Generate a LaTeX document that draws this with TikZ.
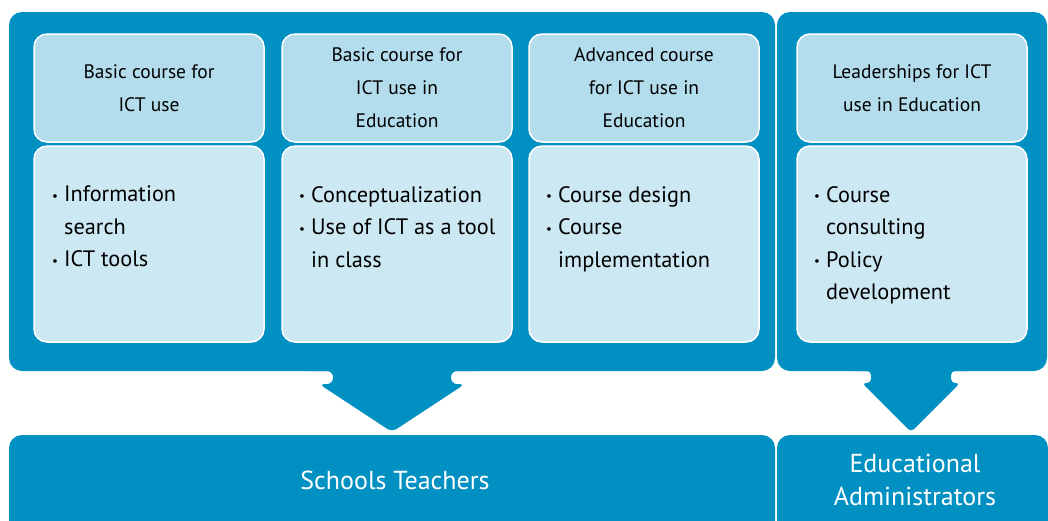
\documentclass[tikz,border=0pt]{standalone}
\usepackage{fontspec}
\setmainfont{PT Sans}
\definecolor{panelblue}{RGB}{0,145,194}
\definecolor{headblue}{RGB}{179,220,236}
\definecolor{bodyblue}{RGB}{204,232,243}
\tikzstyle{head} = [rectangle, rounded corners=13pt, minimum width=230pt, minimum height=108pt, text centered, align=center, draw=white, line width=1.5pt, fill=headblue, font=\fontsize{19.5}{33}\selectfont]
\tikzstyle{body} = [rectangle, rounded corners=13pt, minimum width=230pt, minimum height=196pt, draw=white, line width=1.5pt, fill=bodyblue]
\tikzstyle{items} = [anchor=north west, inner sep=0pt, align=left, font=\fontsize{22.3}{32.5}\selectfont]
\tikzstyle{bartext} = [text centered, align=center, text=white, font=\fontsize{26}{33}\selectfont]
\newcommand{\bul}{\makebox[12pt][l]{\raisebox{1.5pt}{\fontsize{13}{13}\selectfont\textbullet}}}
\newcommand{\ind}{\hspace*{12pt}}

\begin{document}
\begin{tikzpicture}[x=1pt,y=-1pt]
            \useasboundingbox (0,0) rectangle (1048,520);
            \clip (0,0) rectangle (1048,520);

            % panels with their arrows
            \fill [panelblue, rounded corners=13pt] (9,12) rectangle (775,371);
            \fill [panelblue, rounded corners=6pt] (300,360) -- (300,371) -- (333,371) -- (333,384) -- (319,384) -- (392,432) -- (465,384) -- (451,384) -- (451,371) -- (484,371) -- (484,360) -- cycle;
            \fill [panelblue, rounded corners=13pt] (777,12) rectangle (1047,371);
            \fill [panelblue, rounded corners=4pt] (850,360) -- (850,371) -- (871,371) -- (871,383) -- (862,383) -- (911,432) -- (960,383) -- (951,383) -- (951,371) -- (972,371) -- (972,360) -- cycle;

            % bottom bars
            \fill [panelblue, rounded corners=13pt] (9,435) rectangle (775,560);
            \fill [panelblue, rounded corners=13pt] (777,435) rectangle (1048,560);

            \node [head] at (149,88) (h1) {Basic course for\\ICT use};
            \node [head] at (397,88) (h2) {Basic course for\\ICT use in\\Education};
            \node [head] at (644,88) (h3) {Advanced course\\for ICT use in\\Education};
            \node [head] at (912,88) (h4) {Leaderships for ICT\\use in Education};

            \node [body] at (149,244) (b1) {};
            \node [body] at (397,244) (b2) {};
            \node [body] at (644,244) (b3) {};
            \node [body] at (912,244) (b4) {};

            \node [items] at (52,186) (t1) {\bul Information\\\ind search\\\bul ICT tools};
            \node [items] at (299,186) (t2) {\bul Conceptualization\\\bul Use of ICT as a tool\\\ind in class};
            \node [items] at (546,186) (t3) {\bul Course design\\\bul Course\\\ind implementation};
            \node [items] at (814,186) (t4) {\bul Course\\\ind consulting\\\bul Policy\\\ind development};

            \node [bartext] at (395,480) (teachers) {Schools Teachers};
            \node [bartext] at (915,480) (admins) {Educational\\Administrators};
            \end{tikzpicture}
\end{document}
